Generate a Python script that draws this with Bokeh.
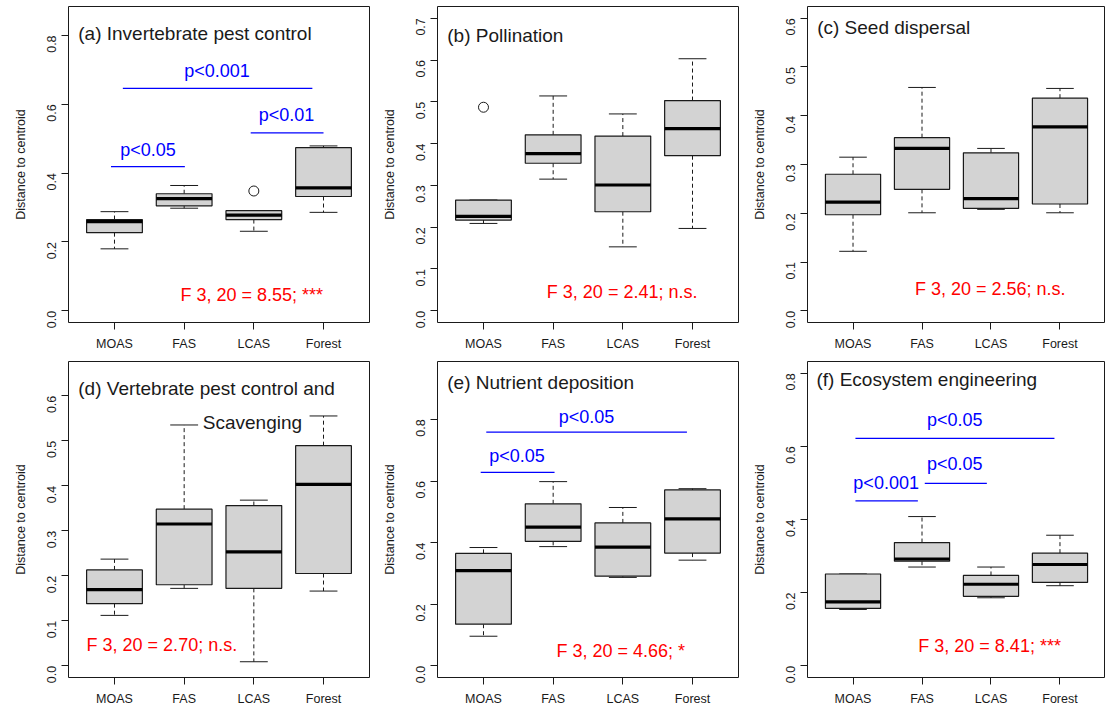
import math
from bokeh.plotting import figure
from bokeh.layouts import gridplot
from bokeh.models import Range1d, FixedTicker, PrintfTickFormatter
from bokeh.embed import file_html
from bokeh.resources import INLINE
from bokeh.core.properties import value

GROUPS = ["MOAS", "FAS", "LCAS", "Forest"]

# (a) Invertebrate pest control
inv_lower  = [0.180, 0.298, 0.231, 0.286]
inv_q1     = [0.227, 0.305, 0.265, 0.332]
inv_median = [0.259, 0.326, 0.278, 0.357]
inv_q3     = [0.265, 0.340, 0.291, 0.474]
inv_upper  = [0.288, 0.364, 0.291, 0.479]
inv_out_group = ["LCAS"]
inv_out_value = [0.348]

# (b) Pollination
pol_lower  = [0.209, 0.315, 0.153, 0.197]
pol_q1     = [0.217, 0.353, 0.237, 0.371]
pol_median = [0.226, 0.376, 0.301, 0.436]
pol_q3     = [0.265, 0.421, 0.418, 0.503]
pol_upper  = [0.265, 0.514, 0.471, 0.603]
pol_out_group = ["MOAS"]
pol_out_value = [0.487]

# (c) Seed dispersal
seed_lower  = [0.122, 0.201, 0.208, 0.201]
seed_q1     = [0.197, 0.249, 0.210, 0.219]
seed_median = [0.223, 0.333, 0.230, 0.377]
seed_q3     = [0.280, 0.355, 0.324, 0.436]
seed_upper  = [0.315, 0.458, 0.333, 0.456]

# (d) Vertebrate pest control and scavenging
vert_lower  = [0.112, 0.172, 0.009, 0.166]
vert_q1     = [0.138, 0.180, 0.172, 0.205]
vert_median = [0.169, 0.315, 0.253, 0.403]
vert_q3     = [0.213, 0.348, 0.356, 0.489]
vert_upper  = [0.237, 0.535, 0.368, 0.555]

# (e) Nutrient deposition
nut_lower  = [0.096, 0.387, 0.287, 0.343]
nut_q1     = [0.135, 0.404, 0.291, 0.366]
nut_median = [0.309, 0.450, 0.385, 0.477]
nut_q3     = [0.365, 0.526, 0.464, 0.571]
nut_upper  = [0.384, 0.598, 0.514, 0.575]

# (f) Ecosystem engineering
eco_lower  = [0.154, 0.270, 0.186, 0.219]
eco_q1     = [0.157, 0.286, 0.190, 0.228]
eco_median = [0.175, 0.292, 0.223, 0.277]
eco_q3     = [0.251, 0.337, 0.247, 0.308]
eco_upper  = [0.251, 0.408, 0.270, 0.357]

# y-axis limits and ticks of each panel
inv_ylim, inv_yticks = 0.85, [0.0, 0.2, 0.4, 0.6, 0.8]
pol_ylim, pol_yticks = 0.70, [0.0, 0.1, 0.2, 0.3, 0.4, 0.5, 0.6, 0.7]
seed_ylim, seed_yticks = 0.60, [0.0, 0.1, 0.2, 0.3, 0.4, 0.5, 0.6]
vert_ylim, vert_yticks = 0.65, [0.0, 0.1, 0.2, 0.3, 0.4, 0.5, 0.6]
nut_ylim, nut_yticks = 0.95, [0.0, 0.2, 0.4, 0.6, 0.8]
eco_ylim, eco_yticks = 0.80, [0.0, 0.2, 0.4, 0.6, 0.8]

# Panel headings (text lines, x, y in data units)
inv_title = [("(a) Invertebrate pest control", 0.48, 0.807)]
pol_title = [("(b) Pollination", 0.48, 0.659)]
seed_title = [("(c) Seed dispersal", 0.48, 0.581)]
vert_title = [("(d) Vertebrate pest control and", 0.48, 0.617)]
vert_title2 = [("Scavenging", 2.98, 0.541)]
nut_title = [("(e) Nutrient deposition", 0.48, 0.920)]
eco_title = [("(f) Ecosystem engineering", 0.47, 0.784)]

# ANOVA results (text, x, y)
inv_anova = ("F 3, 20 = 8.55; ***", 2.97, 0.047)
pol_anova = ("F 3, 20 = 2.41; n.s.", 2.99, 0.046)
seed_anova = ("F 3, 20 = 2.56; n.s.", 2.99, 0.045)
vert_anova = ("F 3, 20 = 2.70; n.s.", 1.68, 0.047)
nut_anova = ("F 3, 20 = 4.66; *", 2.97, 0.049)
eco_anova = ("F 3, 20 = 8.41; ***", 2.98, 0.053)

# Pairwise contrasts: bar from x0 to x1 at height y, label at (tx, ty)
inv_sig = [(1.12, 3.84, 0.646, "p<0.001", 2.47, 0.697),
           (0.95, 2.01, 0.419, "p<0.05", 1.48, 0.466),
           (2.955, 4.00, 0.517, "p<0.01", 3.47, 0.568)]
nut_sig = [(1.04, 3.92, 0.759, "p<0.05", 2.48, 0.809),
           (0.96, 2.02, 0.628, "p<0.05", 1.48, 0.681)]
eco_sig = [(1.035, 3.92, 0.622, "p<0.05", 2.475, 0.671),
           (1.035, 1.94, 0.451, "p<0.001", 1.48, 0.500),
           (2.04, 2.94, 0.499, "p<0.05", 2.475, 0.552)]

FONT = "Liberation Sans"
BOX_FILL = "#D3D3D3"
INK = "#1a1a1a"


def panel(lower, q1, med, q3, upper, ylim, yticks, titles, anova,
          sig=(), out_group=(), out_value=(), width=370, height=355,
          left=68, right=1, bottom=33):
    pad = 0.04 * ylim
    p = figure(width=width, height=height,
               x_range=Range1d(0.5 - 0.16, 4.5 + 0.16),
               y_range=Range1d(-pad, ylim + pad),
               output_backend="svg", toolbar_location=None,
               min_border_left=left, min_border_right=right,
               min_border_top=6, min_border_bottom=bottom)
    p.title.visible = False
    p.grid.visible = False
    p.outline_line_color = INK
    p.outline_line_width = 1
    p.background_fill_color = "white"
    p.border_fill_color = "white"

    xs = [i + 1 for i in range(len(GROUPS))]
    hw, cw = 0.4, 0.2
    # whiskers
    p.segment(xs, q3, xs, upper, line_color=INK, line_width=1, line_dash="4 3")
    p.segment(xs, q1, xs, lower, line_color=INK, line_width=1, line_dash="4 3")
    # staples
    p.segment([x - cw for x in xs], upper, [x + cw for x in xs], upper,
              line_color=INK, line_width=1)
    p.segment([x - cw for x in xs], lower, [x + cw for x in xs], lower,
              line_color=INK, line_width=1)
    # boxes
    p.quad(left=[x - hw for x in xs], right=[x + hw for x in xs],
           bottom=q1, top=q3, fill_color=BOX_FILL, line_color=INK, line_width=1.2)
    # medians
    p.segment([x - hw for x in xs], med, [x + hw for x in xs], med,
              line_color="black", line_width=3.2)
    # outliers
    if out_group:
        ox = [GROUPS.index(g) + 1 for g in out_group]
        p.scatter(ox, list(out_value), marker="circle", size=10,
                  fill_color=None, line_color=INK, line_width=1)

    # headings
    for txt, tx, ty in titles:
        align = "left" if tx < 1 else "center"
        p.text([tx], [ty], text=[txt], text_font=value(FONT),
               text_font_size="19px", text_color=INK, text_align=align,
               text_baseline="middle", background_fill_color="white")
    # contrasts
    for x0, x1, y, txt, tx, ty in sig:
        p.segment([x0], [y], [x1], [y], line_color="blue", line_width=1.3)
        p.text([tx], [ty], text=[txt], text_font=value(FONT),
               text_font_size="18px", text_color="blue", text_align="center",
               text_baseline="middle")
    txt, tx, ty = anova
    p.text([tx], [ty], text=[txt], text_font=value(FONT), text_font_size="18px",
           text_color="red", text_align="center", text_baseline="middle")

    xa = p.xaxis[0]
    xa.ticker = FixedTicker(ticks=xs)
    xa.major_label_overrides = {x: g for x, g in zip(xs, GROUPS)}
    ya = p.yaxis[0]
    ya.ticker = FixedTicker(ticks=yticks)
    ya.formatter = PrintfTickFormatter(format="%.1f")
    ya.major_label_orientation = math.pi / 2
    ya.axis_label = "Distance to centroid"
    ya.axis_label_text_font = FONT
    ya.axis_label_text_font_style = "normal"
    ya.axis_label_text_font_size = "12.5px"
    ya.axis_label_text_color = INK
    ya.axis_label_standoff = 12
    for ax in (xa, ya):
        ax.axis_line_color = None
        ax.major_tick_in = 0
        ax.major_tick_out = 7
        ax.major_tick_line_color = INK
        ax.minor_tick_line_color = None
        ax.major_label_text_font = FONT
        ax.major_label_text_font_size = "12.5px"
        ax.major_label_text_color = INK
    xa.major_label_standoff = 7
    ya.major_label_standoff = 10
    return p


pa = panel(inv_lower, inv_q1, inv_median, inv_q3, inv_upper, inv_ylim, inv_yticks,
           inv_title, inv_anova, inv_sig, inv_out_group, inv_out_value,
           width=370, left=68, right=1)
pb = panel(pol_lower, pol_q1, pol_median, pol_q3, pol_upper, pol_ylim, pol_yticks,
           pol_title, pol_anova, (), pol_out_group, pol_out_value,
           width=369, left=67, right=1)
pc = panel(seed_lower, seed_q1, seed_median, seed_q3, seed_upper, seed_ylim, seed_yticks,
           seed_title, seed_anova, width=366, left=68, right=0)
pd_ = panel(vert_lower, vert_q1, vert_median, vert_q3, vert_upper, vert_ylim, vert_yticks,
            vert_title + vert_title2, vert_anova, width=370, left=68, right=1,
            height=354, bottom=32)
pe = panel(nut_lower, nut_q1, nut_median, nut_q3, nut_upper, nut_ylim, nut_yticks,
           nut_title, nut_anova, nut_sig, width=369, left=67, right=1,
           height=354, bottom=32)
pf = panel(eco_lower, eco_q1, eco_median, eco_q3, eco_upper, eco_ylim, eco_yticks,
           eco_title, eco_anova, eco_sig, width=366, left=68, right=0,
           height=354, bottom=32)

grid = gridplot([[pa, pb, pc], [pd_, pe, pf]], toolbar_location=None)

with open("out.html", "w") as f:
    f.write(file_html(grid, INLINE))
